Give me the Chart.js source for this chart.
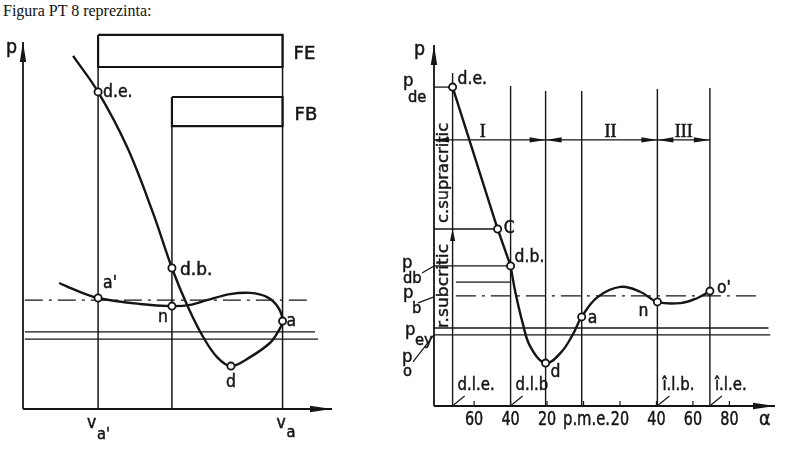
<!DOCTYPE html>
<html>
<head>
<meta charset="utf-8">
<script src="https://cdn.jsdelivr.net/npm/chart.js@4.4.1/dist/chart.umd.min.js"></script>
<style>
  body { margin: 0; background: #fff; width: 800px; height: 454px; position: relative; overflow: hidden; }
  #titlu { position: absolute; left: 3px; top: 2px; font: 16px "Liberation Serif", "DejaVu Serif", serif; color: #111; }
  #stanga { position: absolute; left: 0; top: 0; }
  #dreapta { position: absolute; left: 370px; top: 0; }
</style>
</head>
<body>
<div id="titlu">Figura PT 8 reprezinta:</div>
<canvas id="stanga" width="370" height="454"></canvas>
<canvas id="dreapta" width="430" height="454"></canvas>
<script>
// ---------- Figura din stanga: p in functie de v ----------
const stgCurbaV = [16.2, 24.3, 33.7, 42.1, 48.2, 53.1, 58.3, 62.8, 67.3, 73.5, 79.9, 82.5, 84, 82.5, 79, 73.5, 67, 59.5, 54, 48.2, 37.9, 24.3, 17.8, 11.7];
const stgCurbaP = [117.7, 105.7, 87.3, 65.3, 47, 34.7, 24, 17.3, 14.3, 17.3, 22, 25.7, 29.3, 34, 37.3, 38.7, 38.3, 36.3, 34.7, 34.3, 35, 37, 39.3, 42];
const stgPuncteV = [24.3, 48.2, 67.3, 84, 48.2, 24.3];      // d.e., d.b., d, a, n, a'
const stgPuncteP = [105.7, 47, 14.3, 29.3, 34.3, 37];
const stgVerticaleV = [24.3, 48.2, 84];                     // v_a', FB, v_a
const stgVerticaleSus = [124.7, 104, 124.7];
const feV = [24.3, 84], feP = [114, 124.7];
const fbV = [48.2, 84], fbP = [94.3, 104];
const stgNivelB = 36.3;
const stgNiveluri = [25.7, 23.3];

// ---------- Figura din dreapta: p in functie de alfa ----------
const alfaTicks = [-60, -40, -20, 0, 20, 40, 60, 80];
const alfaTickLabels = ['60', '40', '20', 'p.m.e.', '20', '40', '60', '80'];
const drpDreaptaA = [-71.8, -47.1, -40];                   // d.e. -> C -> d.b.
const drpDreaptaP = [106.3, 59, 46.7];
const drpCurbaA = [-40, -37.3, -33.4, -29.1, -20.8, -12.6, -6, -1, 7.7, 20.3, 31.3, 40.5, 53.2, 62.5, 69.3];
const drpCurbaP = [46.7, 37.7, 27.7, 19.7, 14.3, 17.7, 23.7, 29.7, 36.3, 39.7, 38, 34.7, 34.3, 36, 38.3];
const drpPuncteA = [-71.8, -47.1, -40, -20.8, -1, 40.5, 69.3]; // d.e., C, d.b., d, a, n, o'
const drpPuncteP = [106.3, 59, 46.7, 14.3, 29.7, 34.7, 38.3];
const drpVerticaleA = [-71.8, -40, -20.8, -1, 40.5, 69.3];  // d.l.e., d.l.b., d, p.m.e., i.l.b., i.l.e.
const drpVerticaleSus = [111, 106.7, 105, 105, 105.7, 106];
const pDe = 106.3, pC = 59, pDb = 46.7, pDb2 = 41.3, pB = 36.7, pEy = 26, pO = 23.7;
const nivelZone = 88.7;

const NEGRU = '#151515';
const FONT = '"DejaVu Sans", sans-serif';

function segment(xs, ys, extra) {
    return Object.assign({
        data: xs.map((x, i) => ({ x: x, y: ys[i] })),
        borderColor: NEGRU, borderWidth: 1.3, pointRadius: 0, tension: 0,
        fill: false, order: 2, clip: false
    }, extra || {});
}

function puncte(xs, ys) {
    return {
        data: xs.map((x, i) => ({ x: x, y: ys[i] })),
        showLine: false, pointRadius: 3.6, pointBackgroundColor: '#fff',
        pointBorderColor: NEGRU, pointBorderWidth: 1.8, order: 0, clip: false
    };
}

// scrisul din figura e ingust si gros: comprimam pe orizontala si ingrosam putin
function scrie(ctx, t, x, y, opt) {
    opt = opt || {};
    ctx.save();
    ctx.font = (opt.size || 17) + 'px ' + (opt.family || FONT);
    ctx.fillStyle = NEGRU;
    ctx.strokeStyle = NEGRU;
    ctx.lineWidth = 0.5;
    ctx.textAlign = opt.align || 'left';
    ctx.textBaseline = 'alphabetic';
    ctx.translate(x, y);
    ctx.scale(opt.sx || 0.92, 1);
    ctx.fillText(t, 0, 0);
    ctx.strokeText(t, 0, 0);
    ctx.restore();
}

// text vertical (de jos in sus) intins pe lungimea data
function scrieVertical(ctx, t, x, jos, sus, size) {
    ctx.save();
    ctx.font = size + 'px ' + FONT;
    ctx.fillStyle = NEGRU;
    ctx.strokeStyle = NEGRU;
    ctx.lineWidth = 0.4;
    ctx.textBaseline = 'middle';
    const w = ctx.measureText(t).width;
    ctx.translate(x, jos);
    ctx.rotate(-Math.PI / 2);
    ctx.scale((jos - sus) / w, 1);
    ctx.fillText(t, 0, 0);
    ctx.strokeText(t, 0, 0);
    ctx.restore();
}

function sageata(ctx, x, y, dir, lung, lat) {
    ctx.save();
    ctx.fillStyle = NEGRU;
    ctx.beginPath();
    ctx.moveTo(x, y);
    if (dir === 'dreapta') { ctx.lineTo(x - lung, y - lat); ctx.lineTo(x - lung, y + lat); }
    if (dir === 'stanga') { ctx.lineTo(x + lung, y - lat); ctx.lineTo(x + lung, y + lat); }
    if (dir === 'sus') { ctx.lineTo(x - lat, y + lung); ctx.lineTo(x + lat, y + lung); }
    ctx.closePath();
    ctx.fill();
    ctx.restore();
}

function linieSubtire(ctx, x1, y1, x2, y2) {
    ctx.save();
    ctx.strokeStyle = NEGRU;
    ctx.lineWidth = 1.2;
    ctx.beginPath();
    ctx.moveTo(x1, y1);
    ctx.lineTo(x2, y2);
    ctx.stroke();
    ctx.restore();
}

const optiuniComune = {
    responsive: false,
    animation: false,
    events: [],
    plugins: { legend: { display: false }, tooltip: { enabled: false } }
};

// ---------- Grafic stanga ----------
const etichetePV = {
    id: 'etichetePV',
    afterDatasetsDraw(chart) {
        const ctx = chart.ctx;
        const X = v => chart.scales.x.getPixelForValue(v);
        const Y = p => chart.scales.y.getPixelForValue(p);
        sageata(ctx, X(100), Y(0), 'dreapta', 22, 3.2);
        sageata(ctx, X(0), Y(122.3), 'sus', 20, 3.2);
        scrie(ctx, 'p', X(0) - 17, Y(122.3) + 11, { size: 19 });
        scrie(ctx, 'FE', X(feV[1]) + 11, Y((feP[0] + feP[1]) / 2) + 8, { size: 18, sx: 1 });
        scrie(ctx, 'FB', X(fbV[1]) + 12, Y((fbP[0] + fbP[1]) / 2) + 8, { size: 18, sx: 1 });
        scrie(ctx, 'd.e.', X(stgPuncteV[0]) + 5, Y(stgPuncteP[0]) + 5);
        scrie(ctx, 'd.b.', X(stgPuncteV[1]) + 8, Y(stgPuncteP[1]) + 7, { sx: 1 });
        scrie(ctx, 'd', X(stgPuncteV[2]), Y(stgPuncteP[2]) + 21, { align: 'center' });
        scrie(ctx, 'a', X(stgPuncteV[3]) + 4, Y(stgPuncteP[3]) + 5);
        scrie(ctx, 'n', X(stgPuncteV[4]) - 4, Y(stgPuncteP[4]) + 16, { align: 'right' });
        scrie(ctx, "a'", X(stgPuncteV[5]) + 5, Y(stgPuncteP[5]) - 10);
        scrie(ctx, 'v', X(stgVerticaleV[0]) - 11, Y(0) + 19);
        scrie(ctx, "a'", X(stgVerticaleV[0]) - 1, Y(0) + 30, { size: 16 });
        scrie(ctx, 'v', X(stgVerticaleV[2]) - 6, Y(0) + 19);
        scrie(ctx, 'a', X(stgVerticaleV[2]) + 4, Y(0) + 28, { size: 16 });
    }
};

const seturiStanga = [
    puncte(stgPuncteV, stgPuncteP),
    segment(stgCurbaV, stgCurbaP, { borderWidth: 2.4, tension: 0.35, order: 1 }),
    segment([0, 100], [0, 0], { borderWidth: 1.8 }),
    segment([0, 0], [0, 122.3], { borderWidth: 1.8 }),
    segment([feV[0], feV[1], feV[1], feV[0], feV[0]], [feP[1], feP[1], feP[0], feP[0], feP[1]], { borderWidth: 2.2 }),
    segment([fbV[0], fbV[1], fbV[1], fbV[0], fbV[0]], [fbP[1], fbP[1], fbP[0], fbP[0], fbP[1]], { borderWidth: 2.2 }),
    segment([0.6, 93.5], [stgNivelB, stgNivelB], { borderDash: [18, 6, 3, 6] }),
    segment([0.6, 94.5], [stgNiveluri[0], stgNiveluri[0]]),
    segment([0.6, 95.5], [stgNiveluri[1], stgNiveluri[1]])
];
stgVerticaleV.forEach((v, i) => {
    seturiStanga.push(segment([v, v], [0, stgVerticaleSus[i]], { borderWidth: 1.5 }));
});

new Chart(document.getElementById('stanga'), {
    type: 'line',
    data: { datasets: seturiStanga },
    options: Object.assign({}, optiuniComune, {
        layout: { padding: { left: 23, top: 34, right: 38, bottom: 45 } },
        scales: {
            x: { type: 'linear', min: 0, max: 100, display: false },
            y: { type: 'linear', min: 0, max: 125, display: false }
        }
    }),
    plugins: [etichetePV]
});

// ---------- Grafic dreapta ----------
const eticheteAlfa = {
    id: 'eticheteAlfa',
    afterDatasetsDraw(chart) {
        const ctx = chart.ctx;
        const X = a => chart.scales.x.getPixelForValue(a);
        const Y = p => chart.scales.y.getPixelForValue(p);
        const x0 = X(-82);
        // axe
        sageata(ctx, X(105), Y(0), 'dreapta', 22, 3.2);
        sageata(ctx, x0, Y(120.3), 'sus', 20, 3.2);
        scrie(ctx, 'p', x0 - 20, Y(120.3) + 10, { size: 19 });
        scrie(ctx, '\u03b1', X(105) - 16, Y(0) + 19, { size: 19 });
        // gradatiile axei alfa
        alfaTicks.forEach((a, i) => {
            linieSubtire(ctx, X(a), Y(0), X(a), Y(0) - 5);
            scrie(ctx, alfaTickLabels[i], X(a) + (a === 0 ? 3 : 0), Y(0) + 19, { size: 20, sx: a === 0 ? 0.74 : 0.72, align: 'center' });
        });
        // zonele I, II, III
        const yz = Y(nivelZone);
        sageata(ctx, x0, yz, 'stanga', 15, 2.6);
        [drpVerticaleA[2], drpVerticaleA[4], drpVerticaleA[5]].forEach(a => sageata(ctx, X(a), yz, 'dreapta', 16, 2.6));
        [drpVerticaleA[2], drpVerticaleA[4]].forEach(a => sageata(ctx, X(a), yz, 'stanga', 16, 2.6));
        sageata(ctx, X(drpVerticaleA[0]), Y(pC), 'sus', 12, 2.6);
        const serif = '"Liberation Serif", serif';
        scrie(ctx, 'I', (x0 + X(drpVerticaleA[2])) / 2 - 7, yz - 3, { align: 'center', family: serif, size: 18, sx: 1 });
        scrie(ctx, 'II', (X(drpVerticaleA[2]) + X(drpVerticaleA[4])) / 2 + 9, yz - 3, { align: 'center', family: serif, size: 18, sx: 1 });
        scrie(ctx, 'III', (X(drpVerticaleA[4]) + X(drpVerticaleA[5])) / 2, yz - 3, { align: 'center', family: serif, size: 18, sx: 1 });
        // texte verticale
        scrieVertical(ctx, 'c.supracritic', x0 + 10, Y(pC) - 6, Y(nivelZone) - 17, 15);
        scrieVertical(ctx, 'r.subcritic', x0 + 10, Y(pEy), Y(pDb) - 22, 15);
        // etichete puncte
        scrie(ctx, 'd.e.', X(drpPuncteA[0]) + 5, Y(drpPuncteP[0]) - 3);
        scrie(ctx, 'C', X(drpPuncteA[1]) + 6, Y(drpPuncteP[1]) + 4);
        scrie(ctx, 'd.b.', X(drpPuncteA[2]) + 4, Y(drpPuncteP[2]) - 4);
        scrie(ctx, 'd', X(drpPuncteA[3]) + 5, Y(drpPuncteP[3]) + 14);
        scrie(ctx, 'a', X(drpPuncteA[4]) + 6, Y(drpPuncteP[4]) + 6);
        scrie(ctx, 'n', X(drpPuncteA[5]) - 9, Y(drpPuncteP[5]) + 14, { align: 'right' });
        scrie(ctx, "o'", X(drpPuncteA[6]) + 7, Y(drpPuncteP[6]) + 2);
        // presiuni pe axa p
        scrie(ctx, 'p', x0 - 31, Y(pDe) - 1, { size: 18 });
        scrie(ctx, 'de', x0 - 26, Y(pDe) + 15, { size: 16 });
        scrie(ctx, 'p', x0 - 32, Y(pDb) + 2, { size: 18 });
        scrie(ctx, 'db', x0 - 31, Y(pDb) + 17, { size: 16 });
        linieSubtire(ctx, x0 - 12, Y(pDb) + 7, x0, Y(pDb));
        scrie(ctx, 'p', x0 - 31, Y(pB) + 2, { size: 18 });
        scrie(ctx, 'b', x0 - 22, Y(pB) + 17, { size: 16 });
        linieSubtire(ctx, x0 - 16, Y(pB) + 7, x0, Y(pB) + 1);
        scrie(ctx, 'p', x0 - 29, Y(pEy) + 7, { size: 18 });
        scrie(ctx, 'ey', x0 - 19, Y(pEy) + 17, { size: 16 });
        scrie(ctx, 'p', x0 - 32, Y(pO) + 27, { size: 18 });
        scrie(ctx, 'o', x0 - 31, Y(pO) + 41, { size: 16 });
        linieSubtire(ctx, x0 - 21, Y(pO) + 27, x0, Y(pO));
        // reperele unghiulare
        const reper = [['d.l.e.', drpVerticaleA[0]], ['d.l.b', drpVerticaleA[1]], ['\u00ee.l.b.', drpVerticaleA[4]], ['\u00ee.l.e.', drpVerticaleA[5]]];
        reper.forEach(r => {
            linieSubtire(ctx, X(r[1]) + 1, Y(0) - 1, X(r[1]) + 12, Y(0) - 10);
            scrie(ctx, r[0], X(r[1]) + 5, Y(0) - 16, { sx: 0.88 });
        });
    }
};

const seturiDreapta = [
    puncte(drpPuncteA, drpPuncteP),
    segment(drpDreaptaA, drpDreaptaP, { borderWidth: 2.4, order: 1 }),
    segment(drpCurbaA, drpCurbaP, { borderWidth: 2.4, tension: 0.4, order: 1 }),
    segment([-82, 105], [0, 0], { borderWidth: 1.8 }),
    segment([-82, -82], [0, 120.3], { borderWidth: 1.8 }),
    segment([-82, drpPuncteA[0]], [pDe, pDe]),
    segment([-82, drpPuncteA[1]], [pC, pC]),
    segment([-82, drpPuncteA[2]], [pDb, pDb]),
    segment([-70, -40], [pDb2, pDb2]),
    segment([-70, 95.4], [pB, pB], { borderDash: [20, 6, 3, 6] }),
    segment([-82, 101.4], [pEy, pEy]),
    segment([-82, 102.4], [pO, pO]),
    segment([-82, drpVerticaleA[5]], [nivelZone, nivelZone])
];
drpVerticaleA.forEach((a, i) => {
    seturiDreapta.push(segment([a, a], [0, drpVerticaleSus[i]], { borderWidth: 1.4 }));
});

new Chart(document.getElementById('dreapta'), {
    type: 'line',
    data: { datasets: seturiDreapta },
    options: Object.assign({}, optiuniComune, {
        layout: { padding: { left: 64, top: 43, right: 25, bottom: 48 } },
        scales: {
            x: { type: 'linear', min: -82, max: 105, display: false },
            y: { type: 'linear', min: 0, max: 121, display: false }
        }
    }),
    plugins: [eticheteAlfa]
});
</script>
</body>
</html>
